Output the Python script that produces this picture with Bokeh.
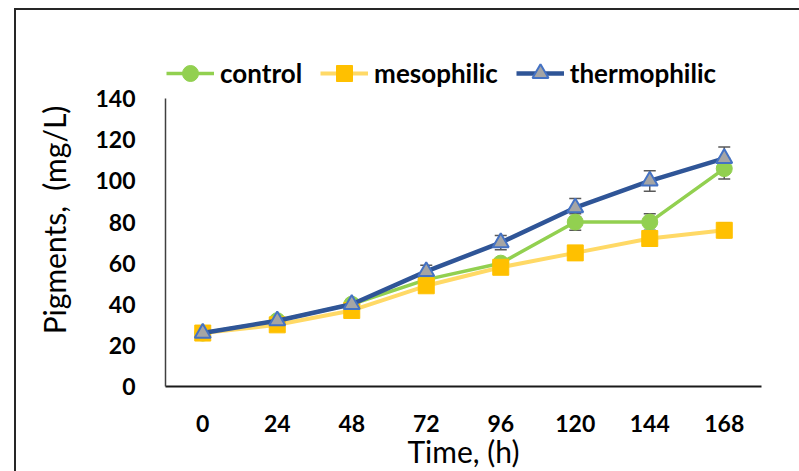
from bokeh.plotting import figure
from bokeh.models import (ColumnDataSource, FactorRange, Range1d, FixedTicker, Whisker,
                          TeeHead, Legend, LegendItem)
from bokeh.embed import file_html
from bokeh.resources import INLINE

times = ["0", "24", "48", "72", "96", "120", "144", "168"]
control = [26, 32, 40, 52, 60, 80, 80, 106]
control_err = [1, 1, 1.5, 2, 2, 4, 4, 5]
mesophilic = [26, 30, 37, 49, 58, 65, 72, 76]
mesophilic_err = [1, 1, 1, 1.5, 2, 2.5, 3.5, 3.5]
thermophilic = [26, 32, 40, 56, 70, 87, 100, 111]
thermophilic_err = [1, 1, 1.5, 3, 3.5, 4.5, 5, 5.5]
y_ticks = [0, 20, 40, 60, 80, 100, 120, 140]
y_axis_max = 140
y_view_max = 162   # headroom above the axis for the legend

FONT = "Lato"
FRAME_LINE = "#262626"

page_border = (f"linear-gradient({FRAME_LINE},{FRAME_LINE}) 14px 8px / 2px 100% no-repeat, "
               f"linear-gradient({FRAME_LINE},{FRAME_LINE}) 14px 8px / 100% 2px no-repeat, #ffffff")

p = figure(x_range=FactorRange(*times), y_range=Range1d(0, y_view_max),
           width=799, height=471, output_backend="svg", toolbar_location=None,
           min_border_left=165, min_border_right=38, min_border_top=53, min_border_bottom=84,
           styles={"background": page_border})
p.border_fill_color = None
p.background_fill_color = None
p.outline_line_color = None
p.xgrid.grid_line_color = None
p.ygrid.grid_line_color = None

for ax in (p.xaxis, p.yaxis):
    ax.major_tick_line_color = None
    ax.minor_tick_line_color = None
    ax.major_label_text_font = FONT
    ax.major_label_text_font_style = "bold"
    ax.major_label_text_font_size = "23px"
    ax.major_label_text_color = "#000000"
    ax.axis_label_text_font = FONT
    ax.axis_label_text_font_style = "normal"
    ax.axis_label_text_font_size = "30px"
    ax.axis_label_text_color = "#000000"

p.xaxis.axis_line_color = "#1a1a1a"
p.xaxis.axis_line_width = 2
p.yaxis.axis_line_color = "#404040"
p.yaxis.axis_line_width = 1.5
p.yaxis.bounds = (0, y_axis_max)
p.yaxis.ticker = FixedTicker(ticks=y_ticks)
p.xaxis.major_label_standoff = 22
p.yaxis.major_label_standoff = 24
p.xaxis.axis_label = "Time, (h)"
p.yaxis.axis_label = "Pigments,\u00a0 (mg/L)"
p.xaxis.axis_label_standoff = -2
p.yaxis.axis_label_standoff = 20

series = [
    ("control", control, control_err, "#92D050", "circle", "#92D050", "#92D050", 3.5),
    ("mesophilic", mesophilic, mesophilic_err, "#FFD966", "square", "#FFC000", "#FFC000", 4),
    ("thermophilic", thermophilic, thermophilic_err, "#2F5597", "triangle", "#A5A5A5", "#4472C4", 4.5),
]

for name, vals, errs, lc, mk, fc, oc, lw in series:
    src = ColumnDataSource(dict(x=times,
                                upper=[v + e for v, e in zip(vals, errs)],
                                lower=[v - e for v, e in zip(vals, errs)]))
    w = Whisker(base="x", upper="upper", lower="lower", source=src,
                line_color="#595959", line_width=1.5,
                upper_head=TeeHead(size=12, line_color="#595959", line_width=1.5),
                lower_head=TeeHead(size=12, line_color="#595959", line_width=1.5))
    p.add_layout(w)

items = []
for name, vals, errs, lc, mk, fc, oc, lw in series:
    src = ColumnDataSource(dict(x=times, y=vals))
    lr = p.line("x", "y", source=src, line_color=lc, line_width=lw)
    mr = p.scatter("x", "y", source=src, marker=mk, size=16, fill_color=fc,
                   line_color=oc, line_width=2 if mk == "triangle" else 1)
    items.append(LegendItem(label=name, renderers=[lr, mr]))

legend = Legend(items=items, orientation="horizontal", location=(1, 293),
                glyph_width=48, glyph_height=40, label_standoff=6, spacing=18,
                padding=0, margin=0, border_line_color=None, background_fill_alpha=0,
                label_text_font=FONT, label_text_font_style="bold",
                label_text_font_size="26px", label_text_color="#000000")
p.add_layout(legend, "center")

open("out.html", "w").write(file_html(p, INLINE))
